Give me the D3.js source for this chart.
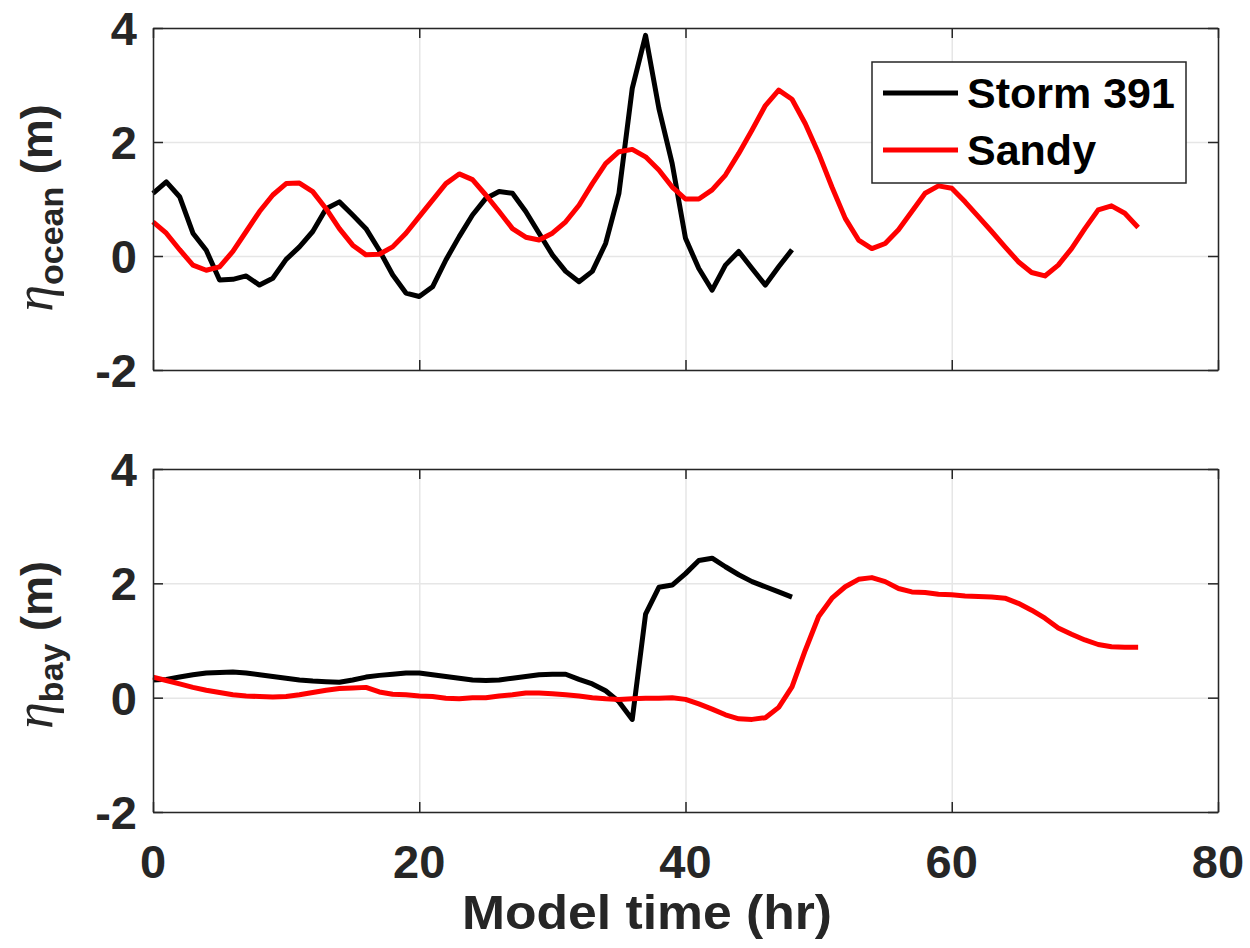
<!DOCTYPE html>
<html>
<head>
<meta charset="utf-8">
<script src="https://cdn.jsdelivr.net/npm/d3@7"></script>
<style>
  html, body { margin: 0; padding: 0; background: #fff; }
  svg { display: block; }
  text { font-family: Arial, "Liberation Sans", Helvetica, sans-serif; font-weight: bold; }
</style>
</head>
<body>
<svg id="chart" width="1250" height="948"></svg>
<script>
// Hourly water level (m) at the ocean boundary
const hoursStorm = d3.range(0, 49);
const hoursSandy = d3.range(0, 75);

const oceanStorm391 = [
  1.10, 1.30, 1.04, 0.40, 0.10, -0.42, -0.41, -0.35, -0.51, -0.39,
  -0.06, 0.16, 0.43, 0.83, 0.95, 0.72, 0.48, 0.10, -0.33, -0.65,
  -0.71, -0.54, -0.07, 0.34, 0.72, 1.01, 1.13, 1.10, 0.78, 0.40,
  0.02, -0.27, -0.45, -0.27, 0.22, 1.10, 2.94, 3.87, 2.59, 1.62,
  0.31, -0.22, -0.60, -0.16, 0.08, -0.22, -0.51, -0.19, 0.11
];
const oceanSandy = [
  0.60, 0.40, 0.11, -0.16, -0.25, -0.19, 0.08, 0.43, 0.78, 1.07,
  1.27, 1.28, 1.13, 0.83, 0.48, 0.19, 0.02, 0.03, 0.16, 0.40,
  0.69, 0.98, 1.27, 1.44, 1.34, 1.07, 0.78, 0.48, 0.33, 0.28,
  0.40, 0.60, 0.89, 1.27, 1.62, 1.83, 1.87, 1.74, 1.51, 1.21,
  1.00, 1.00, 1.16, 1.42, 1.80, 2.21, 2.64, 2.91, 2.75, 2.32,
  1.80, 1.21, 0.66, 0.28, 0.13, 0.22, 0.46, 0.78, 1.10, 1.23,
  1.19, 0.95, 0.69, 0.43, 0.16, -0.10, -0.29, -0.35, -0.16, 0.13,
  0.48, 0.81, 0.88, 0.75, 0.50
];

// Hourly water level (m) inside the bay
const bayStorm391 = [
  0.31, 0.32, 0.36, 0.40, 0.43, 0.44, 0.45, 0.43, 0.40, 0.37,
  0.34, 0.31, 0.29, 0.28, 0.27, 0.31, 0.36, 0.39, 0.41, 0.43,
  0.43, 0.40, 0.37, 0.34, 0.31, 0.30, 0.31, 0.34, 0.37, 0.40,
  0.41, 0.41, 0.32, 0.24, 0.12, -0.07, -0.38, 1.46, 1.93, 1.97,
  2.17, 2.40, 2.44, 2.29, 2.15, 2.03, 1.94, 1.85, 1.76
];
const baySandy = [
  0.36, 0.30, 0.24, 0.18, 0.13, 0.09, 0.05, 0.03, 0.02, 0.01,
  0.02, 0.05, 0.09, 0.13, 0.16, 0.17, 0.18, 0.10, 0.06, 0.05,
  0.03, 0.02, -0.01, -0.02, 0.00, 0.00, 0.03, 0.05, 0.08, 0.08,
  0.07, 0.05, 0.03, 0.00, -0.02, -0.03, -0.02, -0.01, -0.01, 0.00,
  -0.03, -0.11, -0.20, -0.30, -0.37, -0.38, -0.35, -0.17, 0.19, 0.83,
  1.42, 1.74, 1.94, 2.07, 2.10, 2.03, 1.91, 1.85, 1.84, 1.81,
  1.80, 1.78, 1.77, 1.76, 1.74, 1.65, 1.53, 1.39, 1.22, 1.11,
  1.01, 0.93, 0.89, 0.88, 0.88
];

const xTicks = [0, 20, 40, 60, 80];
const yTicks = [-2, 0, 2, 4];
const seriesNames = ["Storm 391", "Sandy"];
const seriesColors = ["#000000", "#ff0000"];

const svg = d3.select("#chart");
const axisColor = "#262626";
const gridColor = "#e6e6e6";

const x = d3.scaleLinear().domain([0, 80]).range([153, 1218]);

function panel(top, bottom, stormVals, sandyVals, subscript, labelY) {
  const y = d3.scaleLinear().domain([-2, 4]).range([bottom, top]);
  const g = svg.append("g");

  // grid
  g.append("g").attr("transform", `translate(0,${bottom})`)
    .call(d3.axisBottom(x).tickValues(xTicks).tickSize(-(bottom - top)).tickFormat(""))
    .call(s => s.select(".domain").remove())
    .call(s => s.selectAll("line").attr("stroke", gridColor).attr("stroke-width", 1.5));
  g.append("g").attr("transform", `translate(${x.range()[0]},0)`)
    .call(d3.axisLeft(y).tickValues(yTicks).tickSize(-(x.range()[1] - x.range()[0])).tickFormat(""))
    .call(s => s.select(".domain").remove())
    .call(s => s.selectAll("line").attr("stroke", gridColor).attr("stroke-width", 1.5));

  // data lines
  const line = (xs) => d3.line().x((d, i) => x(xs[i])).y(d => y(d));
  g.append("path").datum(stormVals).attr("d", line(hoursStorm))
    .attr("fill", "none").attr("stroke", seriesColors[0]).attr("stroke-width", 5)
    .attr("stroke-linejoin", "round");
  g.append("path").datum(sandyVals).attr("d", line(hoursSandy))
    .attr("fill", "none").attr("stroke", seriesColors[1]).attr("stroke-width", 5)
    .attr("stroke-linejoin", "round");

  // frame with inward ticks on all four sides
  const tick = 10;
  const axes = [
    [d3.axisBottom(x).tickValues(xTicks).tickSizeInner(-tick).tickSizeOuter(0).tickFormat(""), `translate(0,${bottom})`],
    [d3.axisTop(x).tickValues(xTicks).tickSizeInner(-tick).tickSizeOuter(0).tickFormat(""), `translate(0,${top})`],
    [d3.axisLeft(y).tickValues(yTicks).tickSizeInner(-tick).tickSizeOuter(0).tickFormat(""), `translate(${x.range()[0]},0)`],
    [d3.axisRight(y).tickValues(yTicks).tickSizeInner(-tick).tickSizeOuter(0).tickFormat(""), `translate(${x.range()[1]},0)`]
  ];
  axes.forEach(([ax, tr]) => {
    g.append("g").attr("transform", tr).call(ax)
      .call(s => s.selectAll("path, line").attr("stroke", axisColor).attr("stroke-width", 1.5));
  });

  // y tick labels
  g.selectAll(".ylab").data(yTicks).enter().append("text")
    .attr("x", 137).attr("y", d => y(d)).attr("dy", "0.36em")
    .attr("text-anchor", "end").attr("font-size", 47).attr("fill", axisColor)
    .text(d => d);

  // y axis label: eta with subscript
  const lab = g.append("text")
    .attr("transform", `translate(52,${labelY}) rotate(-90)`)
    .attr("text-anchor", "middle").attr("font-size", 45).attr("fill", axisColor);
  lab.append("tspan").attr("font-family", "'Liberation Serif', 'DejaVu Serif', serif")
    .attr("font-style", "italic").attr("font-weight", "normal").attr("font-size", 54).text("η");
  lab.append("tspan").attr("font-size", 34).attr("dy", 11).text(subscript);
  lab.append("tspan").attr("dy", -11).text("\u00a0(m)");
  return y;
}

panel(28, 370, oceanStorm391, oceanSandy, "ocean", 208);
panel(469, 812, bayStorm391, baySandy, "bay", 645);

// x tick labels
svg.selectAll(".xlab").data(xTicks).enter().append("text")
  .attr("x", d => x(d)).attr("y", 878)
  .attr("text-anchor", "middle").attr("font-size", 47).attr("fill", axisColor)
  .text(d => d);

svg.append("text").attr("x", 647).attr("y", 929)
  .attr("text-anchor", "middle").attr("font-size", 48).attr("fill", axisColor)
  .attr("textLength", 370).attr("lengthAdjust", "spacingAndGlyphs")
  .text("Model time (hr)");

// legend
const lg = svg.append("g");
lg.append("rect").attr("x", 872).attr("y", 62).attr("width", 314).attr("height", 121)
  .attr("fill", "#fff").attr("stroke", axisColor).attr("stroke-width", 1.5);
const legendY = [93, 150];
seriesNames.forEach((name, i) => {
  lg.append("line").attr("x1", 883).attr("x2", 958).attr("y1", legendY[i]).attr("y2", legendY[i])
    .attr("stroke", seriesColors[i]).attr("stroke-width", 5);
  lg.append("text").attr("x", 967).attr("y", legendY[i]).attr("dy", "0.36em")
    .attr("font-size", 43).attr("fill", "#000").text(name);
});
</script>
</body>
</html>
